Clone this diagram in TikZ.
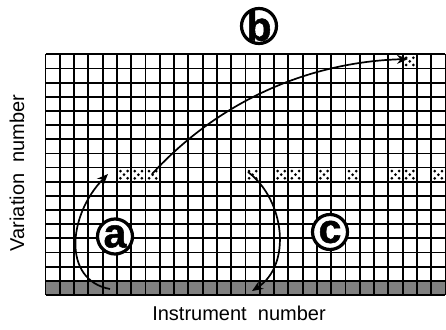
\documentclass[tikz,border=0pt]{standalone}
\usepackage{fontspec}
\setmainfont{Liberation Sans}
\newfontfamily\heavyfont[FakeBold=1.3]{Liberation Sans Bold}
\usetikzlibrary{arrows.meta}
\begin{document}
\begin{tikzpicture}[x=1pt,y=-1pt,
  gridline/.style={line width=1.8pt},
  conn/.style={line width=1.7pt, -{Stealth[length=11pt,width=9pt]}},
  ring/.style={circle, draw, fill=white, line width=3.2pt, minimum size=35pt, inner sep=0pt},
  letter/.style={font=\fontsize{41}{41}\heavyfont, inner sep=0pt},
  axislab/.style={font=\fontsize{20}{20}\selectfont, inner sep=0pt}]
\useasboundingbox (0,0) rectangle (446,329);
\def\gx{45.5}\def\gy{54.3}\def\cw{14.285}\def\ch{14.16}
% shaded bottom row
\fill[black!50] (\gx,\gy+16*\ch) rectangle (\gx+28*\cw,\gy+17*\ch);
% dotted cells
\foreach \c/\r in {25/0,5/8,6/8,7/8,14/8,16/8,17/8,19/8,21/8,24/8,25/8,27/8} {
  \foreach \dx/\dy in {-3.6/-3.6,3.6/-3.6,0/0,-3.6/3.6,3.6/3.6}
    \fill (\gx+\c*\cw+0.5*\cw+\dx,\gy+\r*\ch+0.5*\ch+\dy) circle (1.5pt);
}
% grid
\foreach \i in {0,...,28} \draw[gridline] (\gx+\i*\cw,\gy) -- (\gx+\i*\cw,\gy+17*\ch);
\foreach \j in {0,...,17} \draw[gridline] (\gx,\gy+\j*\ch) -- (\gx+28*\cw,\gy+\j*\ch);
% connectors
\coordinate (aS) at (110,289); \coordinate (aE) at (108,174);
\coordinate (bS) at (152,174); \coordinate (bE) at (408,59);
\coordinate (cS) at (248,172); \coordinate (cE) at (252,291);
\draw[conn] (aS) .. controls (62,280) and (68,215) .. (aE);
\draw[conn] (bS) .. controls (220,100) and (310,62) .. (bE);
\draw[conn] (cS) .. controls (285,200) and (292,265) .. (cE);
% circled labels
\node[ring] (ra) at (115,236.5) {};
\node[letter] (la) at (ra) {a};
\node[ring] (rb) at (259,26) {};
\node[letter] (lb) at (rb) {b};
\node[ring] (rc) at (330,232) {};
\node[letter] (lc) at (rc) {c};
% axis labels
\node[axislab] (xl) at (239,313) {Instrument\ \ number};
\node[axislab, rotate=90] (yl) at (17,173) {Variation\ \ number};
\end{tikzpicture}
\end{document}
